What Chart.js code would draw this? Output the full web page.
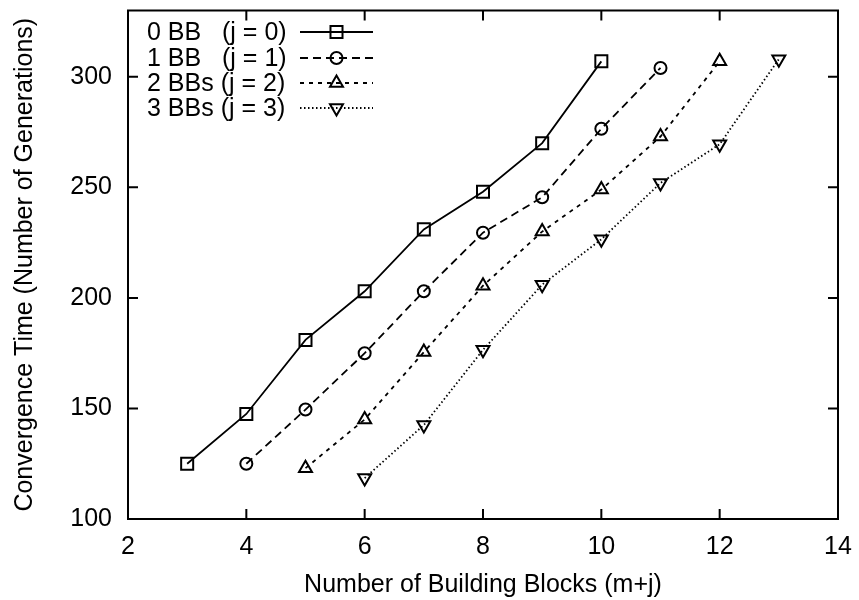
<!DOCTYPE html>
<html>
<head>
<meta charset="utf-8">
<script src="https://cdn.jsdelivr.net/npm/chart.js@4/dist/chart.umd.min.js"></script>
<style>
  html, body { margin: 0; padding: 0; background: #fff; }
  #wrap { width: 859px; height: 600px; }
</style>
</head>
<body>
<div id="wrap"><canvas id="myChart"></canvas></div>
<script>
// building blocks (m+j) for each run
const blocks0 = [3, 4, 5, 6, 7, 8, 9, 10];
const blocks1 = [4, 5, 6, 7, 8, 9, 10, 11];
const blocks2 = [5, 6, 7, 8, 9, 10, 11, 12];
const blocks3 = [6, 7, 8, 9, 10, 11, 12, 13];

// convergence time (generations)
const gens0 = [125, 147.5, 181, 203, 231, 248, 270, 307];
const gens1 = [125, 149.5, 175, 203, 229.5, 245.5, 276.5, 304];
const gens2 = [123, 145, 175.5, 205.5, 230, 249, 273, 307];
const gens3 = [118.5, 142.5, 176.5, 206, 226.5, 252, 269.5, 308];

const seriesLabels = ['0 BB   (j = 0)', '1 BB   (j = 1)', '2 BBs (j = 2)', '3 BBs (j = 3)'];
const xTicks = [2, 4, 6, 8, 10, 12, 14];
const yTicks = [100, 150, 200, 250, 300];

const FONT = '"Liberation Sans", Arial, Helvetica, sans-serif';
const SIZE = 25;

function pts(xs, ys) {
  return xs.map((x, i) => ({ x: x, y: ys[i] }));
}

function series(label, xs, ys, dash, style, radius, rotation) {
  return {
    label: label,
    data: pts(xs, ys),
    showLine: true,
    borderColor: '#000',
    borderWidth: 1.8,
    borderDash: dash,
    pointStyle: style,
    pointRadius: radius,
    pointRotation: rotation,
    pointBorderColor: '#000',
    pointBorderWidth: 2,
    pointBackgroundColor: 'rgba(0,0,0,0)',
  };
}

// gnuplot-style box with inward ticks on all four sides
const frame = {
  id: 'frame',
  afterDatasetsDraw(chart) {
    const { ctx, chartArea: a, scales } = chart;
    const len = 10;
    ctx.save();
    ctx.strokeStyle = '#000';
    ctx.lineWidth = 2;
    ctx.strokeRect(a.left, a.top, a.right - a.left, a.bottom - a.top);
    ctx.beginPath();
    xTicks.forEach(v => {
      const px = scales.x.getPixelForValue(v);
      ctx.moveTo(px, a.bottom); ctx.lineTo(px, a.bottom - len);
      ctx.moveTo(px, a.top); ctx.lineTo(px, a.top + len);
    });
    yTicks.forEach(v => {
      const py = scales.y.getPixelForValue(v);
      ctx.moveTo(a.left, py); ctx.lineTo(a.left + len, py);
      ctx.moveTo(a.right, py); ctx.lineTo(a.right - len, py);
    });
    ctx.stroke();
    ctx.restore();
  }
};

// key in the upper left corner: text, then line sample with its marker
const key = {
  id: 'key',
  afterDatasetsDraw(chart) {
    const { ctx, chartArea: a } = chart;
    const textX = a.left + 19;
    const lineX0 = a.left + 172;
    const lineX1 = a.left + 245;
    const rowY = [32, 58, 83, 108];
    ctx.save();
    ctx.font = SIZE + 'px ' + FONT;
    ctx.textBaseline = 'middle';
    chart.data.datasets.forEach((ds, i) => {
      const y = rowY[i];
      ctx.fillStyle = '#000';
      ctx.fillText(ds.label, textX, y + 1);
      ctx.strokeStyle = '#000';
      ctx.lineWidth = ds.borderWidth;
      ctx.setLineDash(ds.borderDash);
      ctx.beginPath();
      ctx.moveTo(lineX0, y);
      ctx.lineTo(lineX1, y);
      ctx.stroke();
      ctx.setLineDash([]);
      ctx.lineWidth = ds.pointBorderWidth;
      ctx.fillStyle = 'rgba(0,0,0,0)';
      Chart.helpers.drawPoint(ctx, {
        pointStyle: ds.pointStyle,
        radius: ds.pointRadius,
        rotation: ds.pointRotation,
        borderWidth: ds.pointBorderWidth,
      }, (lineX0 + lineX1) / 2, y);
    });
    ctx.restore();
  }
};

new Chart('myChart', {
  type: 'scatter',
  data: {
    datasets: [
      series(seriesLabels[0], blocks0, gens0, [], 'rect', 8.5, 0),
      series(seriesLabels[1], blocks1, gens1, [8, 5], 'circle', 6, 0),
      series(seriesLabels[2], blocks2, gens2, [4, 5], 'triangle', 7.5, 0),
      series(seriesLabels[3], blocks3, gens3, [1.5, 2.5], 'triangle', 7.5, 180),
    ],
  },
  options: {
    responsive: true,
    maintainAspectRatio: false,
    animation: false,
    layout: { padding: { top: 7, right: 21, left: 0, bottom: 0 } },
    plugins: {
      legend: { display: false },
      tooltip: { enabled: false },
    },
    scales: {
      x: {
        type: 'linear',
        min: 2,
        max: 14,
        afterBuildTicks: s => { s.ticks = xTicks.map(v => ({ value: v })); },
        afterFit: s => { s.height = 81; s.paddingLeft = 0; s.paddingRight = 0; },
        grid: { display: false, drawTicks: false },
        border: { display: false },
        ticks: { color: '#000', padding: 13, font: { family: FONT, size: SIZE } },
        title: {
          display: true,
          text: 'Number of Building Blocks (m+j)',
          color: '#000',
          font: { family: FONT, size: SIZE },
          padding: { top: 0, bottom: 0 },
        },
      },
      y: {
        type: 'linear',
        min: 100,
        max: 330,
        afterBuildTicks: s => { s.ticks = yTicks.map(v => ({ value: v })); },
        afterFit: s => { s.width = 128; s.paddingTop = 0; s.paddingBottom = 0; },
        grid: { display: false, drawTicks: false },
        border: { display: false },
        ticks: { color: '#000', padding: 16, font: { family: FONT, size: SIZE } },
        title: {
          display: true,
          text: 'Convergence Time (Number of Generations)',
          color: '#000',
          font: { family: FONT, size: SIZE },
          padding: { top: 10, bottom: 0 },
        },
      },
    },
  },
  plugins: [frame, key],
});
</script>
</body>
</html>
